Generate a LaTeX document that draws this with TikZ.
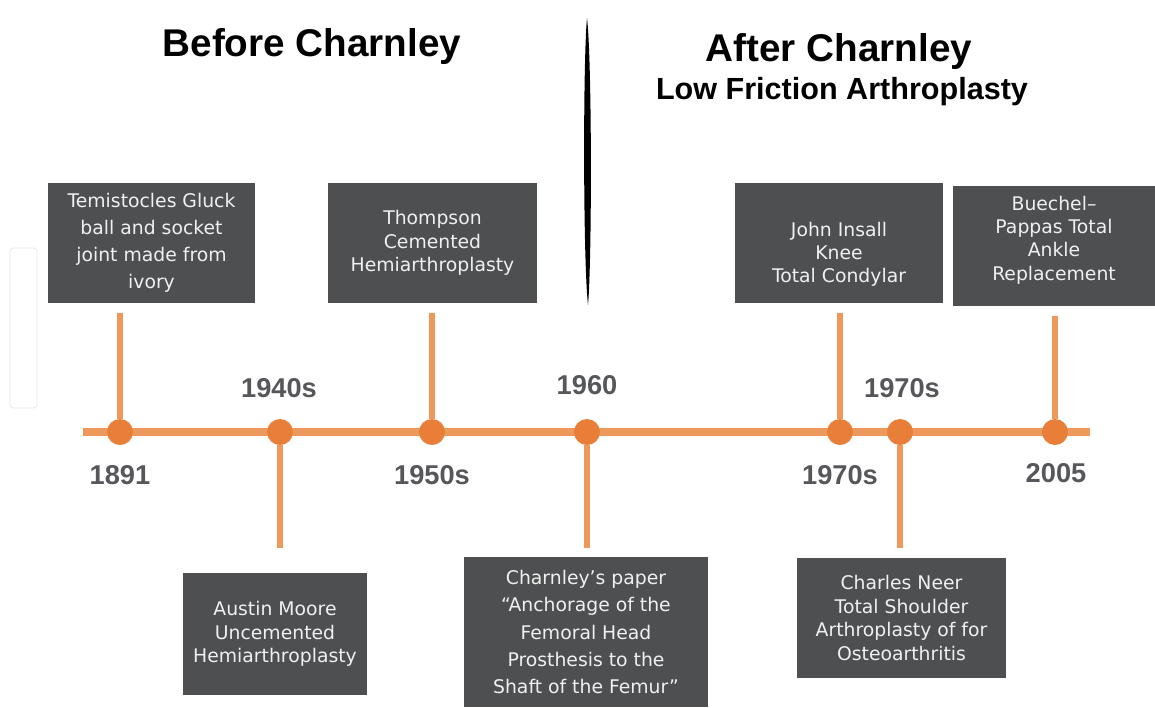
\documentclass[tikz,border=0pt]{standalone}
\usepackage{fontspec}
\setmainfont{DejaVu Sans}
\newfontfamily\headfont{Liberation Sans}
\definecolor{boxgray}{RGB}{77,79,81}
\definecolor{lineorange}{RGB}{239,152,92}
\definecolor{dotorange}{RGB}{233,126,56}
\definecolor{yeargray}{RGB}{86,87,90}

\begin{document}
\begin{tikzpicture}[x=0.02cm,y=-0.02cm,
  event/.style={fill=boxgray,text=white!94!black,align=center,inner sep=0pt,
    font=\fontsize{10.7}{13.3}\selectfont},
  loose event/.style={event,font=\fontsize{10.7}{15.4}\selectfont},
  year/.style={text=yeargray,font=\headfont\bfseries\fontsize{15.5}{18}\selectfont},
  title/.style={font=\headfont\bfseries\fontsize{22}{26}\selectfont},
  dot/.style={circle,fill=dotorange,minimum size=0.52cm,inner sep=0pt},
  stem/.style={lineorange,line width=3.4pt}]
\useasboundingbox (0,0) rectangle (1155,707);
\draw [black!10, rounded corners=2pt] (10,248) rectangle (37,408);

% headings and the divider
\node [title] (before) at (312,47) {Before Charnley};
\node [title] (after) at (839,52) {After Charnley};
\node [font=\headfont\bfseries\fontsize{17.4}{20}\selectfont] (lfa) at (842,92) {Low Friction Arthroplasty};
\fill [black] (587,18) .. controls (592,60) and (592,260) .. (588,305)
   .. controls (583,260) and (583,60) .. (587,18);

% timeline
\coordinate (tl-start) at (83,432);
\coordinate (tl-end) at (1090,432);
\draw [lineorange, line width=4.6pt] (tl-start) -- (tl-end);

\node [dot] (d1891) at (120,432) {};
\node [dot] (d1940) at (280,432) {};
\node [dot] (d1950) at (432,432) {};
\node [dot] (d1960) at (587,432) {};
\node [dot] (d1970a) at (840,432) {};
\node [dot] (d1970b) at (900,432) {};
\node [dot] (d2005) at (1055,432) {};

\node [year] (y1891) at (120,475) {1891};
\node [year] (y1940) at (279,388) {1940s};
\node [year] (y1950) at (432,475) {1950s};
\node [year] (y1960) at (587,385) {1960};
\node [year] (y1970a) at (840,475) {1970s};
\node [year] (y1970b) at (902,388) {1970s};
\node [year] (y2005) at (1056,473) {2005};

% events
\node [loose event, minimum width=4.14cm, minimum height=2.4cm] (gluck) at (151.5,243)
  {Temistocles Gluck\\ball and socket\\joint made from\\ivory};
\node [event, minimum width=4.18cm, minimum height=2.4cm] (thompson) at (432.5,243)
  {Thompson\\Cemented\\Hemiarthroplasty};
\node [event, minimum width=4.16cm, minimum height=2.4cm] (insall) at (839,243)
  {\rule{0pt}{21pt}John Insall\\Knee\\Total Condylar};
\node [event, minimum width=4.04cm, minimum height=2.4cm] (buechel) at (1054,246)
  {Buechel–\\Pappas Total\\Ankle\\Replacement\rule[-9pt]{0pt}{0pt}};
\node [event, minimum width=3.68cm, minimum height=2.44cm] (moore) at (275,634)
  {Austin Moore\\Uncemented\\Hemiarthroplasty};
\node [loose event, minimum width=4.88cm, minimum height=3.0cm] (paper) at (586,632)
  {Charnley’s paper\\“Anchorage of the\\Femoral Head\\Prosthesis to the\\Shaft of the Femur”};
\node [event, minimum width=4.18cm, minimum height=2.4cm] (neer) at (901.5,618)
  {Charles Neer\\Total Shoulder\\Arthroplasty of for\\Osteoarthritis};

\draw [stem, shorten >=0.2cm] (d1891) -- (d1891 |- gluck.south);
\draw [stem, shorten >=0.2cm] (d1950) -- (d1950 |- thompson.south);
\draw [stem, shorten >=0.2cm] (d1970a) -- (d1970a |- insall.south);
\draw [stem, shorten >=0.2cm] (d2005) -- (d2005 |- buechel.south);
\draw [stem, shorten >=0.5cm] (d1940) -- (d1940 |- moore.north);
\draw [stem, shorten >=0.18cm] (d1960) -- (d1960 |- paper.north);
\draw [stem, shorten >=0.2cm] (d1970b) -- (d1970b |- neer.north);
\end{tikzpicture}
\end{document}
